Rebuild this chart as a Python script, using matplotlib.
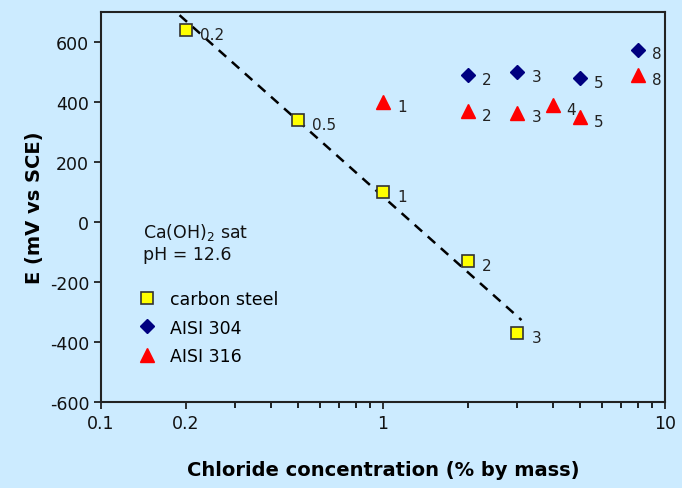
import matplotlib
matplotlib.use("Agg")
import matplotlib.pyplot as plt
from matplotlib.lines import Line2D

cs_x = [0.2, 0.5, 1, 2, 3]
cs_y = [640, 340, 100, -130, -370]
cs_lab = ["0.2", "0.5", "1", "2", "3"]

a304_x = [2, 3, 5, 8]
a304_y = [490, 500, 480, 575]
a304_lab = ["2", "3", "5", "8"]

a316_x = [1, 2, 3, 4, 5, 8]
a316_y = [400, 370, 365, 390, 350, 490]
a316_lab = ["1", "2", "3", "4", "5", "8"]

fit_x = [0.19, 3.1]
fit_y = [690, -327]

xticks = [0.1, 0.2, 1, 10]
xticklabels = ["0.1", "0.2", "1", "10"]
yticks = [-600, -400, -200, 0, 200, 400, 600]

bg = "#CCEBFF"
plt.rcParams['font.family'] = ['DejaVu Sans']
plt.rcParams['axes.unicode_minus'] = False
fig = plt.figure(figsize=(6.82, 4.89), dpi=100, facecolor=bg)
ax = fig.add_axes([0.148, 0.176, 0.827, 0.797])
ax.set_facecolor(bg)

ax.plot(fit_x, fit_y, ls=(0, (4, 3)), color="black", lw=1.8, zorder=2)
ax.plot(cs_x, cs_y, ls="none", marker="s", ms=9, mfc="#FFFF00", mec="#333333", mew=1.2, zorder=3)
ax.plot(a304_x, a304_y, ls="none", marker="D", ms=7, mfc="#000080", mec="#000080", zorder=3)
ax.plot(a316_x, a316_y, ls="none", marker="^", ms=9.5, mfc="#FF0000", mec="#FF0000", zorder=3)

def lab(xs, ys, ls):
    for x, y, t in zip(xs, ys, ls):
        ax.annotate(t, (x, y), xytext=(10, -3), textcoords="offset points",
                    fontsize=11, color="#222222", va="center", ha="left")

lab(cs_x, cs_y, cs_lab)
lab(a304_x, a304_y, a304_lab)
lab(a316_x, a316_y, a316_lab)

ax.set_xscale("log")
ax.set_xlim(0.1, 10)
ax.set_ylim(-600, 700)
ax.set_xticks(xticks)
ax.set_xticklabels(xticklabels)
ax.set_yticks(yticks)
ax.tick_params(axis="both", which="major", direction="out", length=5, width=1.2, labelsize=12.5, colors="#111111")
ax.tick_params(axis="x", which="minor", direction="out", length=4, width=1.2)
ax.xaxis.set_minor_formatter(matplotlib.ticker.NullFormatter())
for s in ax.spines.values():
    s.set_linewidth(1.5)
    s.set_color("#222222")

ax.set_xlabel("Chloride concentration (% by mass)", fontsize=14, fontweight="bold", labelpad=20)
ax.set_ylabel("E (mV vs SCE)", fontsize=14, fontweight="bold", labelpad=4)

ax.text(0.075, 0.465, "Ca(OH)$_2$ sat\npH = 12.6", transform=ax.transAxes, fontsize=12.5,
        va="top", ha="left", linespacing=1.2, color="#111111")

handles = [
    Line2D([], [], ls="none", marker="s", ms=9, mfc="#FFFF00", mec="#333333", mew=1.2),
    Line2D([], [], ls="none", marker="D", ms=7, mfc="#000080", mec="#000080"),
    Line2D([], [], ls="none", marker="^", ms=9.5, mfc="#FF0000", mec="#FF0000"),
]
ax.legend(handles, ["carbon steel", "AISI 304", "AISI 316"], loc="upper left",
          bbox_to_anchor=(0.045, 0.318), frameon=False, fontsize=12.5, handlelength=1.0,
          handletextpad=0.8, labelspacing=0.6, borderpad=0.2)

fig.savefig("out.png", dpi=100, facecolor=bg)
